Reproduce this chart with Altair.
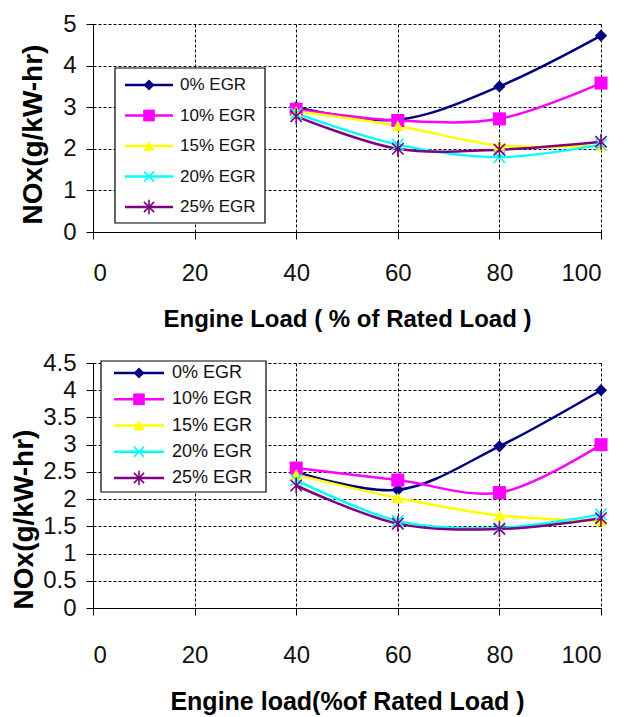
import altair as alt
import pandas as pd

# ---------------- data ----------------
loads = [40, 60, 80, 100]
series = ["0% EGR", "10% EGR", "15% EGR", "20% EGR", "25% EGR"]

top_egr0 = [3.0, 2.7, 3.5, 4.72]
top_egr10 = [2.95, 2.68, 2.72, 3.58]
top_egr15 = [2.9, 2.55, 2.08, 2.08]
top_egr20 = [2.85, 2.1, 1.8, 2.1]
top_egr25 = [2.78, 2.0, 1.98, 2.17]

bot_egr0 = [2.5, 2.17, 2.97, 4.0]
bot_egr10 = [2.57, 2.35, 2.12, 3.0]
bot_egr15 = [2.45, 2.02, 1.7, 1.6]
bot_egr20 = [2.35, 1.6, 1.47, 1.72]
bot_egr25 = [2.25, 1.55, 1.45, 1.65]

x_ticks = [0, 20, 40, 60, 80, 100]
top_y_ticks = [0, 1, 2, 3, 4, 5]
bot_y_ticks = [0, 0.5, 1, 1.5, 2, 2.5, 3, 3.5, 4, 4.5]

# ---------------- styles ----------------
colors = ["#000080", "#FF00FF", "#FFFF00", "#00FFFF", "#800080"]
marker_shapes = ["diamond", "square", "triangle-up",
                 "M-1,-1L1,1M-1,1L1,-1",
                 "M-1,-1L1,1M-1,1L1,-1M0,-1.4V1.4"]
marker_filled = [True, True, True, False, False]
marker_sizes = [150, 170, 150, 130, 130]

FONT = "Liberation Sans, Arial"


def long_table(vals):
    rows = []
    for s, v in zip(series, vals):
        for l, n in zip(loads, v):
            rows.append({"load": l, "nox": n, "series": s})
    return pd.DataFrame(rows)


def legend_layers(box, row0, pitch, line_x, mark_x, text_x, font_size):
    """Boxed legend (line + marker + label per series) inside the plot area."""
    leg_df = pd.DataFrame({"series": series})
    one = pd.DataFrame({"k": [0]})
    x0, x1, y0, y1 = box
    out = [alt.Chart(one).mark_rect(fill="white", stroke="black", strokeWidth=1.2).encode(
        x=alt.value(x0), x2=alt.value(x1), y=alt.value(y0), y2=alt.value(y1))]
    for i, (s, c, shp, f, sz) in enumerate(zip(series, colors, marker_shapes,
                                                marker_filled, marker_sizes)):
        yy = row0 + i * pitch
        row = alt.Chart(leg_df).transform_filter(alt.datum.series == s)
        out.append(row.mark_rule(color=c, strokeWidth=2.5).encode(
            x=alt.value(line_x[0]), x2=alt.value(line_x[1]), y=alt.value(yy)))
        out.append(row.mark_point(shape=shp, filled=f, color=c, size=sz * 0.8,
                                  strokeWidth=1.6, opacity=1).encode(
            x=alt.value(mark_x), y=alt.value(yy)))
        out.append(row.mark_text(align="left", baseline="middle", font=FONT,
                                 fontSize=font_size, color="#111111").encode(
            x=alt.value(text_x), y=alt.value(yy), text="series:N"))
    return out


def panel(vals, ymax, yticks, yfmt, width, height, xtitle, xtitle_size,
          lab_pad_y, title_pad_y, title_y, lab_pad_x, title_pad_x, legend):
    df = long_table(vals)
    base = alt.Chart(df)
    x = alt.X("load:Q", scale=alt.Scale(domain=[0, 100], nice=False, zero=False),
              axis=alt.Axis(values=x_ticks, title=xtitle, format="d",
                            labelPadding=lab_pad_x, titlePadding=title_pad_x,
                            titleFontSize=xtitle_size))
    y = alt.Y("nox:Q", scale=alt.Scale(domain=[0, ymax], nice=False),
              axis=alt.Axis(values=yticks, title="NOx(g/kW-hr)", format=yfmt,
                            labelPadding=lab_pad_y, titlePadding=title_pad_y,
                            titleY=title_y, titleFontSize=28))
    lines = base.mark_line(interpolate="catmull-rom", strokeWidth=2.5).encode(
        x=x, y=y,
        color=alt.Color("series:N", scale=alt.Scale(domain=series, range=colors), legend=None),
    )
    layers = [lines]
    for s, c, shp, f, sz in zip(series, colors, marker_shapes, marker_filled, marker_sizes):
        layers.append(
            base.transform_filter(alt.datum.series == s)
            .mark_point(shape=shp, filled=f, color=c, size=sz, strokeWidth=1.6, opacity=1)
            .encode(x=x, y=y)
        )
    layers += legend_layers(**legend)
    return alt.layer(*layers).properties(width=width, height=height)


top = panel([top_egr0, top_egr10, top_egr15, top_egr20, top_egr25],
            5, top_y_ticks, "d", 508, 208, "Engine Load ( % of Rated Load )", 24,
            10, 15, 110, 22, 22,
            dict(box=(22, 172, 44, 199), row0=61, pitch=30.5, line_x=(32, 80),
                 mark_x=56, text_x=87, font_size=17))
bottom = panel([bot_egr0, bot_egr10, bot_egr15, bot_egr20, bot_egr25],
               4.5, bot_y_ticks, ".1~f", 508, 245, "Engine load(%of Rated Load )", 25,
               10, 4, 156, 28, 22,
               dict(box=(8, 173, -2, 129), row0=10, pitch=26.25, line_x=(21, 71),
                    mark_x=46, text_x=79, font_size=18))

chart = alt.vconcat(top, bottom, spacing=20).resolve_scale(
    color="independent"
).properties(
    padding={"left": 2, "top": 4, "right": 5, "bottom": 2}
).configure_view(stroke=None).configure_axis(
    domainColor="black", domainWidth=1, tickColor="black", tickSize=7, tickWidth=1,
    gridColor="black", gridDash=[3, 2], gridWidth=1, gridOpacity=1,
    labelFont=FONT, labelFontSize=24, labelColor="#111111",
    titleFont=FONT, titleFontWeight="bold", titleColor="black",
)

chart.save("out.html", embed_options={"renderer": "svg", "actions": False})
